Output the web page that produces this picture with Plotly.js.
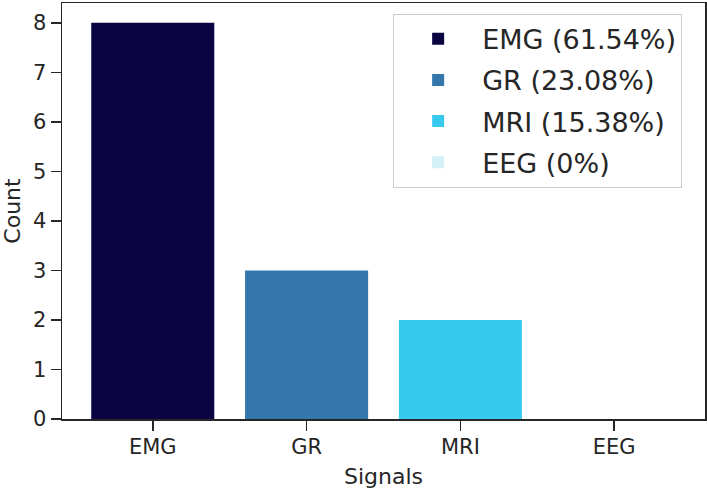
<!DOCTYPE html>
<html>
<head>
<meta charset="utf-8">
<script src="https://cdn.plot.ly/plotly-3.0.1.min.js"></script>
<style>
  html, body { margin: 0; padding: 0; background: #ffffff; }
  #chart { width: 707px; height: 490px; }
</style>
</head>
<body>
<div id="chart"></div>
<script>
// Signals count chart
const signals = ['EMG', 'GR', 'MRI', 'EEG'];
const counts = [8, 3, 2, 0];
const legendLabels = ['EMG (61.54%)', 'GR (23.08%)', 'MRI (15.38%)', 'EEG (0%)'];
const barColors = ['#0a0542', '#3477ab', '#37c9ee', '#d4f1f8'];

const INK = '#262626';
const FONT = 'DejaVu Sans, Verdana, sans-serif';

const traces = signals.map((s, i) => ({
    type: 'bar',
    x: [s],
    y: [counts[i]],
    name: legendLabels[i],
    legendgroup: s,
    width: 0.8,
    marker: { color: barColors[i], line: { width: 0 } },
    hoverinfo: 'x+y'
}));

const layout = {
    width: 707,
    height: 490,
    paper_bgcolor: '#ffffff',
    plot_bgcolor: '#ffffff',
    font: { family: FONT, size: 21, color: INK },
    margin: { t: 3, r: 2, b: 71, l: 62 },
    barmode: 'overlay',
    showlegend: true,
    legend: {
        x: 0.515,
        xanchor: 'left',
        y: 0.974,
        yanchor: 'top',
        bgcolor: '#ffffff',
        bordercolor: '#cccccc',
        borderwidth: 1,
        font: { family: FONT, size: 27, color: INK },
        traceorder: 'grouped',
        tracegroupgap: 3,
        itemwidth: 78
    },
    xaxis: {
        type: 'category',
        categoryorder: 'array',
        categoryarray: signals,
        range: [-0.59, 3.59],
        showline: true,
        linecolor: INK,
        linewidth: 1.5,
        mirror: true,
        ticks: 'outside',
        ticklen: 10,
        tickwidth: 1.5,
        tickcolor: INK,
        ticklabelstandoff: -2,
        showgrid: false,
        zeroline: false,
        tickfont: { size: 21 },
        title: { text: 'Signals', font: { size: 22 }, standoff: 11 }
    },
    yaxis: {
        range: [0, 8.4],
        dtick: 1,
        tick0: 0,
        showline: true,
        linecolor: INK,
        linewidth: 1.5,
        mirror: true,
        ticks: 'outside',
        ticklen: 10,
        tickwidth: 1.5,
        tickcolor: INK,
        showgrid: false,
        zeroline: false,
        tickfont: { size: 21 },
        title: { text: 'Count', font: { size: 22 }, standoff: 8 }
    }
};

Plotly.newPlot('chart', traces, layout, { displayModeBar: false, staticPlot: true });
</script>
</body>
</html>
